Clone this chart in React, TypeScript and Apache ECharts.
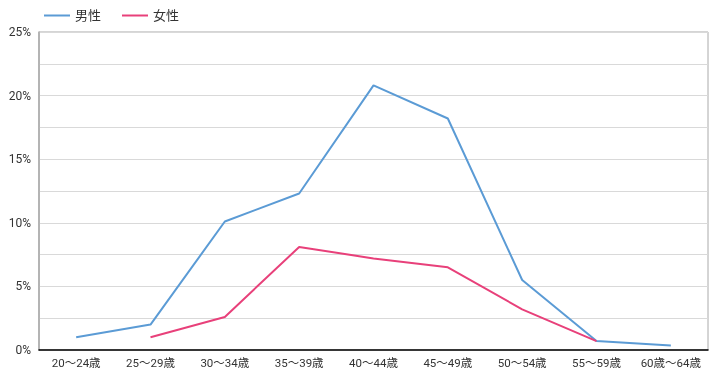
import React, { useEffect, useRef } from "react";
import * as echarts from "echarts";

const categories = ["20～24歳", "25～29歳", "30～34歳", "35～39歳", "40～44歳", "45～49歳", "50～54歳", "55～59歳", "60歳～64歳"];
const maleValues = [1.0, 2.0, 10.1, 12.3, 20.8, 18.2, 5.5, 0.7, 0.35];
const femaleValues: (number | null)[] = [null, 1.0, 2.6, 8.1, 7.2, 6.5, 3.2, 0.7, null];
const seriesNames = ["男性", "女性"];

export default function App() {
  const ref = useRef<HTMLDivElement>(null);
  useEffect(() => {
    if (!ref.current) return;
    const chart = echarts.init(ref.current, null, { renderer: "svg" });
    const font = "Roboto, 'Noto Sans CJK JP', sans-serif";
    chart.setOption({
      animation: false,
      textStyle: { fontFamily: font },
      legend: {
        left: 39,
        top: 4,
        icon: "rect",
        itemWidth: 26,
        itemHeight: 2,
        itemGap: 21,
        textStyle: { fontSize: 13, color: "#333", fontFamily: font },
        data: seriesNames,
      },
      grid: {
        left: 39,
        right: 13,
        top: 32,
        bottom: 32,
        show: true,
        borderColor: "#aaa",
        borderWidth: 1,
      },
      xAxis: {
        type: "category",
        data: categories,
        boundaryGap: true,
        axisLine: { lineStyle: { color: "#000", width: 1.5 } },
        axisTick: { show: false },
        axisLabel: { fontSize: 11.5, color: "#333", margin: 7, fontFamily: font, interval: 0 },
      },
      yAxis: {
        type: "value",
        min: 0,
        max: 25,
        interval: 2.5,
        axisLine: { show: true, lineStyle: { color: "#aaa", width: 1.5 } },
        axisTick: { show: false },
        splitLine: { lineStyle: { color: "#d9d9d9" } },
        axisLabel: {
          fontSize: 12,
          color: "#333",
          margin: 8,
          fontFamily: font,
          formatter: (v: number) => (Math.abs(v % 5) < 1e-9 ? v + "%" : ""),
        },
      },
      series: [
        {
          name: seriesNames[0],
          type: "line",
          data: maleValues,
          symbol: "none",
          lineStyle: { color: "#5B9BD5", width: 2 },
          itemStyle: { color: "#5B9BD5" },
        },
        {
          name: seriesNames[1],
          type: "line",
          data: femaleValues,
          symbol: "none",
          lineStyle: { color: "#E8407A", width: 2 },
          itemStyle: { color: "#E8407A" },
        },
      ],
    });
    return () => chart.dispose();
  }, []);
  return <div ref={ref} style={{ position: "fixed", left: 0, top: 0, width: 721, height: 382 }} />;
}
